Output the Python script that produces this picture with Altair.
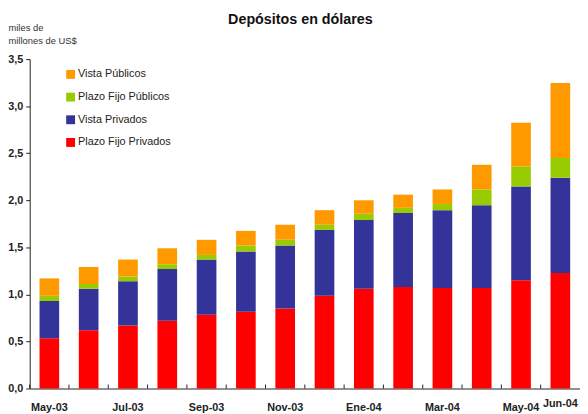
import altair as alt
import pandas as pd

months = ["May-03", "Jun-03", "Jul-03", "Ago-03", "Sep-03", "Oct-03", "Nov-03",
          "Dic-03", "Ene-04", "Feb-04", "Mar-04", "Abr-04", "May-04", "Jun-04"]

plazo_fijo_privados = [0.534, 0.62, 0.67, 0.72, 0.785, 0.817, 0.85,
                       0.985, 1.06, 1.08, 1.068, 1.068, 1.15, 1.228]
vista_privados = [0.396, 0.44, 0.47, 0.55, 0.585, 0.638, 0.67,
                  0.70, 0.73, 0.785, 0.827, 0.88, 0.997, 1.012]
plazo_fijo_publicos = [0.055, 0.05, 0.05, 0.05, 0.05, 0.065, 0.06,
                       0.055, 0.067, 0.055, 0.065, 0.167, 0.213, 0.21]
vista_publicos = [0.185, 0.18, 0.18, 0.17, 0.16, 0.155, 0.16,
                  0.155, 0.143, 0.14, 0.155, 0.262, 0.464, 0.796]

series_names = ["Vista Públicos", "Plazo Fijo Públicos", "Vista Privados", "Plazo Fijo Privados"]
series_colors = ["#FF9900", "#99CC00", "#333399", "#FF0000"]
y_ticks = [0, 0.5, 1.0, 1.5, 2.0, 2.5, 3.0, 3.5]
shown_months = months[::2]
last_month = [months[-1]]

series_values = {
    "Plazo Fijo Privados": plazo_fijo_privados,
    "Vista Privados": vista_privados,
    "Plazo Fijo Públicos": plazo_fijo_publicos,
    "Vista Públicos": vista_publicos,
}
stack_rank = {"Plazo Fijo Privados": 0, "Vista Privados": 1,
              "Plazo Fijo Públicos": 2, "Vista Públicos": 3}

rows = []
for name, vals in series_values.items():
    for m, v in zip(months, vals):
        rows.append({"mes": m, "serie": name, "valor": v, "rank": stack_rank[name]})
df = pd.DataFrame(rows)
df_ticks = pd.DataFrame({"mes": months})

FONT = "Liberation Sans"
TXT = "#222222"

x_scale = alt.Scale(type="band", paddingInner=0.5, paddingOuter=0.25)

bars = alt.Chart(df).mark_bar().encode(
    x=alt.X("mes:N", sort=months, scale=x_scale,
            axis=alt.Axis(title=None, values=shown_months, ticks=False, labelAngle=0,
                          labelPadding=13, labelFontSize=11, labelFontWeight="bold",
                          labelColor=TXT, labelFont=FONT, domainColor=TXT, orient="bottom")),
    y=alt.Y("valor:Q", stack="zero", scale=alt.Scale(domain=[0, 3.5], nice=False),
            axis=alt.Axis(values=y_ticks,
                          labelExpr="replace(format(datum.value, '.1f'), '.', ',')",
                          title=["miles de", "millones de US$"], titleAngle=0,
                          titleAlign="left", titleBaseline="top", titleX=-22, titleY=-37.5,
                          titleFontSize=9.5, titleFontWeight="normal", titleLineHeight=14,
                          titleColor="#333333", titleFont=FONT,
                          grid=False, tickSize=4, tickColor=TXT, domainColor=TXT,
                          labelPadding=3, labelFontSize=11, labelFontWeight="bold",
                          labelColor=TXT, labelFont=FONT)),
    color=alt.Color("serie:N", scale=alt.Scale(domain=series_names, range=series_colors),
                    legend=alt.Legend(title=None, orient="none", legendX=36, legendY=10,
                                      symbolType="square", symbolSize=81,
                                      symbolStrokeWidth=0, labelFontSize=11,
                                      labelFont=FONT, labelColor=TXT, labelOffset=2,
                                      rowPadding=11, padding=0)),
    order=alt.Order("rank:Q", sort="ascending"),
)

ticks = alt.Chart(df_ticks).mark_rule(xOffset=-10, color=TXT).encode(
    x=alt.X("mes:N", sort=months, scale=x_scale, bandPosition=0,
            axis=alt.Axis(title=None, values=last_month, ticks=False, domain=False,
                          labelAngle=0, labelPadding=9, labelFontSize=11,
                          labelFontWeight="bold", labelColor=TXT, labelFont=FONT,
                          orient="bottom")),
    y=alt.value(330),
    y2=alt.value(334),
)

chart = alt.layer(bars, ticks).resolve_axis(x="independent").properties(
    width=558,
    height=334,
    autosize=alt.AutoSizeParams(type="none"),
    padding={"left": 22, "top": 49, "right": 0, "bottom": 23},
    background="white",
    title=alt.TitleParams("Depósitos en dólares", fontSize=14.5, font=FONT,
                          fontWeight="bold", color="#111111", anchor="middle",
                          frame="group", offset=-5, baseline="top", dx=-4.5),
).configure_view(stroke=None)

chart.save("out.html", embed_options={"renderer": "svg", "actions": False})
